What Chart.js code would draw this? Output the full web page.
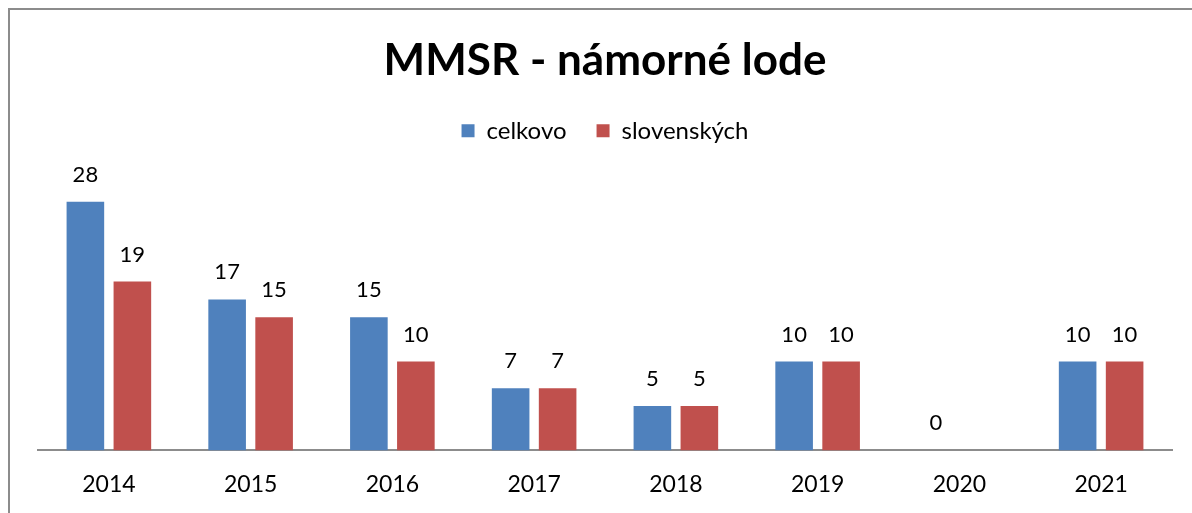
<!DOCTYPE html>
<html>
<head>
<meta charset="utf-8">
<script src="https://cdn.jsdelivr.net/npm/chart.js@4.4.0/dist/chart.umd.min.js"></script>
<style>
  html, body { margin: 0; padding: 0; background: #fff; overflow: hidden; }
  #frame { position: absolute; left: 8px; top: 8px; width: 1300px; height: 600px;
           border-left: 2px solid #8c8c8c; border-top: 2px solid #8c8c8c; }
  #chart { position: absolute; left: 0; top: 0; }
</style>
</head>
<body>
<div id="frame"></div>
<canvas id="chart" width="1192" height="530"></canvas>
<script>
const years = ["2014", "2015", "2016", "2017", "2018", "2019", "2020", "2021"];
const celkovo = [28, 17, 15, 7, 5, 10, 0, 10];
const slovenskych = [19, 15, 10, 7, 5, 10, null, 10];

const FONT = "Lato, 'Open Sans', sans-serif";

// value labels above each bar
const valueLabels = {
    id: "valueLabels",
    afterDatasetsDraw(chart) {
        const ctx = chart.ctx;
        ctx.save();
        ctx.font = "22px " + FONT;
        ctx.fillStyle = "#000";
        ctx.textAlign = "center";
        ctx.textBaseline = "middle";
        chart.data.datasets.forEach((ds, i) => {
            const meta = chart.getDatasetMeta(i);
            meta.data.forEach((bar, j) => {
                const v = ds.data[j];
                if (v === null || v === undefined) return;
                ctx.fillText(String(v), bar.x, bar.y - 27);
            });
        });
        ctx.restore();
    }
};

new Chart(document.getElementById("chart").getContext("2d"), {
    type: "bar",
    data: {
        labels: years,
        datasets: [
            { label: "celkovo", data: celkovo, backgroundColor: "#4F81BD" },
            { label: "slovenských", data: slovenskych, backgroundColor: "#C0504D" }
        ]
    },
    options: {
        responsive: false,
        animation: false,
        devicePixelRatio: 1,
        categoryPercentage: 0.663,
        barPercentage: 0.8,
        layout: { padding: { left: 38, right: 20, top: 0, bottom: 12 } },
        plugins: {
            title: {
                display: true,
                text: "MMSR - námorné lode",
                color: "#000",
                font: { family: FONT, size: 44, weight: "bold" },
                padding: { top: 34, bottom: 2 }
            },
            legend: {
                display: true,
                labels: {
                    color: "#000",
                    font: { family: FONT, size: 24 },
                    boxWidth: 13,
                    boxHeight: 13,
                    padding: 30
                }
            },
            tooltip: { enabled: false }
        },
        scales: {
            x: {
                grid: { display: false, drawTicks: false },
                border: { display: true, color: "#8c8c8c", width: 2 },
                ticks: { color: "#000", font: { family: FONT, size: 23 }, padding: 20 }
            },
            y: {
                display: false,
                min: 0,
                max: 33.5
            }
        }
    },
    plugins: [valueLabels]
});
</script>
</body>
</html>
